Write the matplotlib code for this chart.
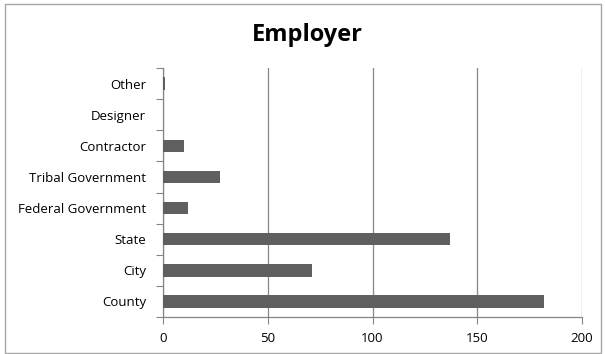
import matplotlib
matplotlib.use("Agg")
import matplotlib.pyplot as plt
import numpy as np
from matplotlib.patches import Rectangle

categories = ["County", "City", "State", "Federal Government", "Tribal Government",
              "Contractor", "Designer", "Other"]
values = [182, 71, 137, 12, 27, 10, 0, 1]
xticks = [0, 50, 100, 150, 200]

plt.rcParams['font.family'] = ['Open Sans', 'DejaVu Sans']

fig = plt.figure(figsize=(6.05, 3.54), dpi=100)
fig.patches.append(Rectangle((0.008, 0.004), 0.985, 0.985, transform=fig.transFigure,
                             fill=False, edgecolor='#a6a6a6', linewidth=1))
ax = fig.add_axes([163/605, 1-317/354, (582-163)/605, (317-68)/354])

y = np.arange(len(categories))
ax.barh(y, values, height=0.4, color='#5f5f5f', zorder=3)

ax.set_xlim(0, 200)
ax.set_ylim(-0.5, len(categories) - 0.5)
ax.set_xticks(xticks)
ax.set_xticklabels([str(t) for t in xticks], fontsize=9.5)
ax.tick_params(axis='x', direction='out', length=5, color='#868686', pad=6)
ax.grid(axis='x', color='#868686', linewidth=0.9, zorder=0)

ax.set_yticks(np.arange(len(categories) + 1) - 0.5)
ax.set_yticklabels([])
ax.set_yticks(y, minor=True)
ax.set_yticklabels(categories, minor=True, fontsize=9.5)
ax.tick_params(axis='y', which='major', direction='out', length=5, color='#868686')
ax.tick_params(axis='y', which='minor', length=0, pad=12)

for s in ['top', 'right']:
    ax.spines[s].set_visible(False)
for s in ['left', 'bottom']:
    ax.spines[s].set_color('#868686')
    ax.spines[s].set_linewidth(0.9)

fig.text(307/605, 1-35/354, "Employer", ha='center', va='center', fontsize=17, fontweight='bold')

fig.savefig("out.png", dpi=100)
